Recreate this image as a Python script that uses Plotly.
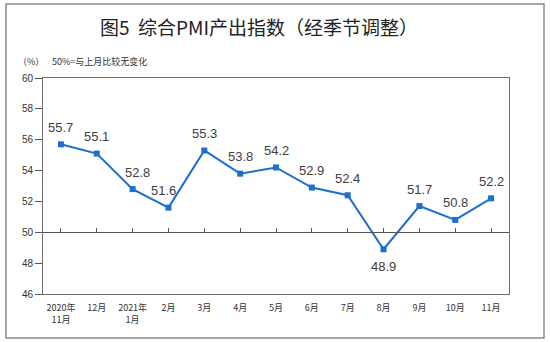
import plotly.graph_objects as go

# Composite PMI output index, seasonally adjusted (%)
months = ["2020年<br>11月", "12月", "2021年<br>1月", "2月", "3月", "4月", "5月",
          "6月", "7月", "8月", "9月", "10月", "11月"]
pmi = [55.7, 55.1, 52.8, 51.6, 55.3, 53.8, 54.2, 52.9, 52.4, 48.9, 51.7, 50.8, 52.2]

y_min, y_max, baseline = 46, 60, 50
y_ticks = list(range(46, 61, 2))

W, H = 550, 342
ml, mr, mt, mb = 43, 41, 78, 48
pw, ph = W - ml - mr, H - mt - mb

def px_x(p):
    return (p - ml) / pw

def px_y(p):
    return (H - mb - p) / ph

blue = "#1F6FCC"
cjk = "Noto Sans CJK SC"
xs = list(range(len(months)))

fig = go.Figure()
fig.add_trace(go.Scatter(
    x=xs, y=pmi,
    mode="lines+markers",
    line=dict(color=blue, width=2),
    marker=dict(symbol="square", size=6, color=blue),
    hoverinfo="skip",
    showlegend=False,
))
# invisible trace carrying the baseline axis at 50
fig.add_trace(go.Scatter(
    x=xs, y=[None] * len(months),
    xaxis="x2", yaxis="y", mode="lines", showlegend=False, hoverinfo="skip",
))

# value labels: above each point, below the dip under 50
value_labels = []
for i, v in enumerate(pmi):
    below = v < baseline
    xshift = 5 if i == 2 else (-5 if i == 3 else 0)
    value_labels.append(dict(
        x=i, y=v, xref="x", yref="y", text=f"{v:.1f}", showarrow=False,
        xanchor="center", yanchor="middle",
        yshift=-17 if below else 17, xshift=xshift,
        font=dict(family="Liberation Sans, Arial", size=13, color="#404040"),
    ))

fig.update_layout(
    width=W, height=H,
    margin=dict(l=ml, r=mr, t=mt, b=mb),
    paper_bgcolor="white", plot_bgcolor="white",
    xaxis=dict(
        range=[-0.5, len(months) - 0.5],
        tickmode="array", tickvals=xs, ticktext=months,
        ticks="", showgrid=False, zeroline=False,
        showline=True, linecolor="#707070", linewidth=1, mirror=True,
        tickfont=dict(family=cjk, size=9, color="#333333"),
        ticklabelstandoff=5,
    ),
    xaxis2=dict(
        overlaying="x", matches="x", anchor="free",
        position=(baseline - y_min) / (y_max - y_min),
        tickmode="array", tickvals=xs,
        tickson="boundaries", ticks="inside", ticklen=4, tickcolor="#555555",
        showticklabels=False, showgrid=False, zeroline=False,
        showline=True, linecolor="#555555", linewidth=1,
    ),
    yaxis=dict(
        range=[y_min, y_max], tickmode="array", tickvals=y_ticks,
        ticks="outside", ticklen=7, tickcolor="#555555",
        showgrid=False, zeroline=False,
        showline=True, linecolor="#707070", linewidth=1, mirror=True,
        tickfont=dict(family="Liberation Sans, Arial", size=10, color="#333333"),
    ),
    shapes=[dict(
        type="rect", xref="paper", yref="paper",
        x0=px_x(6), x1=px_x(544), y0=px_y(338), y1=px_y(4),
        line=dict(color="#8a8a8a", width=1.5), layer="below",
    )],
    annotations=value_labels + [
        dict(text="图5  综合PMI产出指数（经季节调整）", xref="paper", yref="paper",
             x=px_x(259), y=px_y(26), xanchor="center", yanchor="middle",
             showarrow=False, font=dict(family=cjk, size=19, color="#222222")),
        dict(text="（%）", xref="paper", yref="paper",
             x=px_x(16), y=px_y(62), xanchor="left", yanchor="middle",
             showarrow=False, font=dict(family=cjk, size=9, color="#333333")),
        dict(text="50%=与上月比较无变化", xref="paper", yref="paper",
             x=px_x(50), y=px_y(61), xanchor="left", yanchor="middle",
             showarrow=False, font=dict(family=cjk, size=9, color="#333333")),
    ],
)

fig.write_html("out.html")
